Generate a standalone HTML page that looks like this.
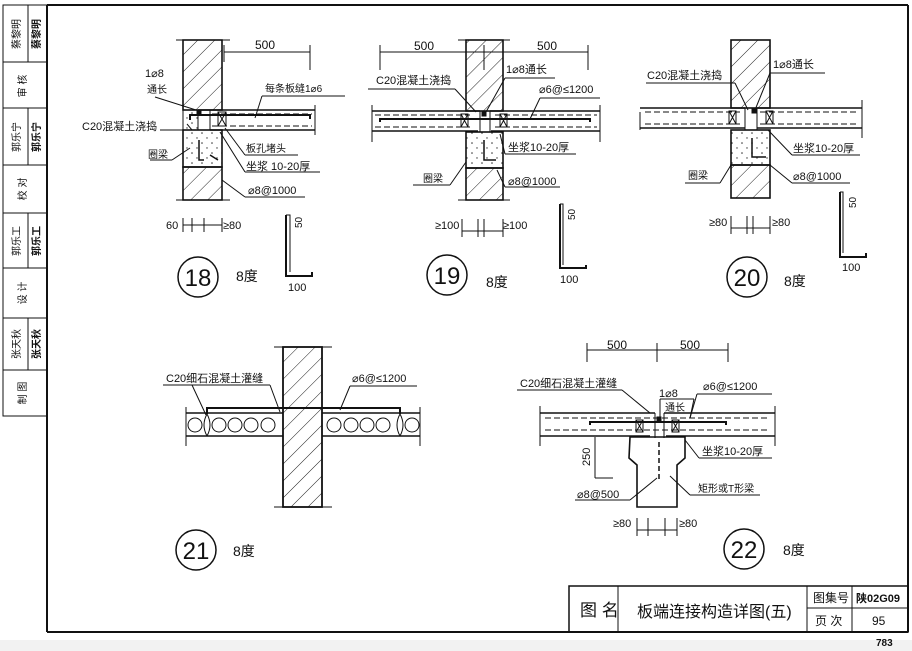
<!DOCTYPE html>
<html><head><meta charset="utf-8"><style>
html,body{margin:0;padding:0;background:#fff}
svg{display:block}
text{font-family:"Liberation Sans","Noto Sans CJK SC",sans-serif;fill:#111}
</style></head><body>
<svg width="912" height="651" viewBox="0 0 912 651" xmlns="http://www.w3.org/2000/svg">
<defs>
<pattern id="h" width="12" height="12" patternUnits="userSpaceOnUse" patternTransform="rotate(45)">
<line x1="0" y1="0" x2="0" y2="12" stroke="#222" stroke-width="1"/></pattern>
<pattern id="d" width="10" height="10" patternUnits="userSpaceOnUse">
<circle cx="2" cy="3" r="0.8" fill="#333"/><circle cx="7" cy="8" r="0.7" fill="#333"/></pattern>
</defs>
<rect x="0" y="640" width="912" height="11" fill="#f2f2f2"/>
<!-- frame -->
<g stroke="#111" fill="none">
<line x1="47" y1="5" x2="908" y2="5" stroke-width="2"/>
<line x1="47" y1="5" x2="47" y2="632" stroke-width="2"/>
<line x1="908" y1="5" x2="908" y2="632" stroke-width="2"/>
<line x1="47" y1="632" x2="908" y2="632" stroke-width="2"/>
<!-- sidebar -->
<rect x="3" y="5" width="44" height="411"/>
<line x1="3" y1="62" x2="47" y2="62"/><line x1="3" y1="108" x2="47" y2="108"/>
<line x1="3" y1="165" x2="47" y2="165"/><line x1="3" y1="213" x2="47" y2="213"/>
<line x1="3" y1="268" x2="47" y2="268"/><line x1="3" y1="318" x2="47" y2="318"/>
<line x1="3" y1="370" x2="47" y2="370"/>
<line x1="28" y1="5" x2="28" y2="62"/><line x1="28" y1="108" x2="28" y2="165"/>
<line x1="28" y1="213" x2="28" y2="268"/><line x1="28" y1="318" x2="28" y2="370"/>
<!-- title block -->
<rect x="569" y="586" width="339" height="46" stroke-width="1.5"/>
<line x1="618" y1="586" x2="618" y2="632"/><line x1="807" y1="586" x2="807" y2="632"/>
<line x1="852" y1="586" x2="852" y2="632"/><line x1="807" y1="608" x2="908" y2="608"/>
</g>
<g font-size="10">
<text transform="translate(20,34) rotate(-90)" text-anchor="middle">蔡黎明</text>
<text transform="translate(40,34) rotate(-90)" text-anchor="middle" font-weight="bold">蔡黎明</text>
<text transform="translate(26,86) rotate(-90)" text-anchor="middle">审 核</text>
<text transform="translate(20,137) rotate(-90)" text-anchor="middle">郭乐宁</text>
<text transform="translate(40,137) rotate(-90)" text-anchor="middle" font-weight="bold">郭乐宁</text>
<text transform="translate(26,189) rotate(-90)" text-anchor="middle">校 对</text>
<text transform="translate(20,241) rotate(-90)" text-anchor="middle">郭乐工</text>
<text transform="translate(40,241) rotate(-90)" text-anchor="middle" font-weight="bold">郭乐工</text>
<text transform="translate(26,293) rotate(-90)" text-anchor="middle">设 计</text>
<text transform="translate(20,344) rotate(-90)" text-anchor="middle">张天秋</text>
<text transform="translate(40,344) rotate(-90)" text-anchor="middle" font-weight="bold">张天秋</text>
<text transform="translate(26,393) rotate(-90)" text-anchor="middle">制 图</text>
</g>
<text x="580" y="616" font-size="17">图 名</text>
<text x="637" y="617" font-size="16">板端连接构造详图(五)</text>
<text x="813" y="602" font-size="12">图集号</text>
<text x="856" y="602" font-size="11" font-weight="bold">陕02G09</text>
<text x="815" y="625" font-size="12">页 次</text>
<text x="872" y="625" font-size="12">95</text>
<text x="876" y="646" font-size="10" font-weight="bold">783</text>

<g stroke="#111" fill="none" stroke-width="1">
<!-- ===== Fig 18 ===== -->
<rect x="183" y="40" width="39" height="70" fill="url(#h)" stroke-width="1.6"/>
<rect x="183" y="167" width="39" height="33" fill="url(#h)" stroke-width="1.6"/>
<rect x="183" y="130" width="39" height="37" fill="url(#d)" stroke-width="1.6"/>
<rect x="183" y="110" width="15" height="20" fill="url(#d)"/>
<line x1="176" y1="40" x2="230" y2="40"/><line x1="176" y1="200" x2="230" y2="200"/>
<line x1="198" y1="110" x2="315" y2="110" stroke-width="1.5"/>
<line x1="210" y1="130" x2="315" y2="130" stroke-width="1.5"/>
<line x1="210" y1="110" x2="210" y2="130"/>
<line x1="315" y1="105" x2="315" y2="135"/>
<line x1="212" y1="114" x2="312" y2="114" stroke-dasharray="6,3"/>
<line x1="212" y1="126" x2="312" y2="126" stroke-dasharray="6,3"/>
<path d="M190 120 L190 115 L310 115 L310 119" stroke-width="2"/>
<rect x="218" y="112" width="8" height="14"/><path d="M218 112 L226 126 M226 112 L218 126"/>
<rect x="197" y="110" width="4" height="4" fill="#111"/>
<path d="M199 140 L199 160 L204 160 M210 155 L218 160" stroke-width="1.5"/>
<line x1="224" y1="52" x2="310" y2="52"/><line x1="224" y1="45" x2="224" y2="62"/><line x1="310" y1="45" x2="310" y2="70"/>
<line x1="155" y1="97" x2="196" y2="110"/>
<line x1="160" y1="130" x2="192" y2="130"/><line x1="192" y1="130" x2="187" y2="124"/>
<line x1="150" y1="160" x2="172" y2="160"/><line x1="172" y1="160" x2="190" y2="148"/>
<line x1="262" y1="96" x2="345" y2="96"/><line x1="262" y1="96" x2="255" y2="118"/>
<line x1="245" y1="155" x2="298" y2="155"/><line x1="245" y1="155" x2="225" y2="128"/>
<line x1="245" y1="172" x2="320" y2="172"/><line x1="245" y1="172" x2="220" y2="132"/>
<line x1="245" y1="197" x2="305" y2="197"/><line x1="245" y1="197" x2="222" y2="180"/>
<line x1="183" y1="225" x2="222" y2="225"/>
<line x1="183" y1="218" x2="183" y2="232"/><line x1="192" y1="218" x2="192" y2="232"/>
<line x1="204" y1="218" x2="204" y2="232"/><line x1="222" y1="218" x2="222" y2="232"/>
<path d="M286 215 L286 276 L312 276 L312 272" stroke-width="2"/><path d="M286 215 L290 215 L290 272"/>
<circle cx="198" cy="277" r="20" stroke-width="1.5"/>

<!-- ===== Fig 19 ===== -->
<rect x="466" y="40" width="37" height="71" fill="url(#h)" stroke-width="1.6"/>
<rect x="466" y="168" width="37" height="32" fill="url(#h)" stroke-width="1.6"/>
<rect x="466" y="132" width="37" height="36" fill="url(#d)" stroke-width="1.6"/>
<line x1="458" y1="40" x2="510" y2="40"/><line x1="458" y1="200" x2="510" y2="200"/>
<line x1="372" y1="111" x2="480" y2="111" stroke-width="1.5"/><line x1="490" y1="111" x2="600" y2="111" stroke-width="1.5"/>
<line x1="372" y1="131" x2="478" y2="131" stroke-width="1.5"/><line x1="491" y1="131" x2="600" y2="131" stroke-width="1.5"/>
<line x1="372" y1="105" x2="372" y2="142"/><line x1="600" y1="105" x2="600" y2="142"/>
<line x1="375" y1="115" x2="470" y2="115" stroke-dasharray="6,3"/><line x1="375" y1="127" x2="470" y2="127" stroke-dasharray="6,3"/>
<line x1="495" y1="115" x2="597" y2="115" stroke-dasharray="6,3"/><line x1="495" y1="127" x2="597" y2="127" stroke-dasharray="6,3"/>
<path d="M380 122 L380 119 L590 119 L590 122" stroke-width="2"/>
<rect x="461" y="114" width="7" height="13"/><path d="M461 114 L468 127 M468 114 L461 127"/>
<rect x="500" y="114" width="7" height="13"/><path d="M500 114 L507 127 M507 114 L500 127"/>
<rect x="482" y="112" width="4" height="4" fill="#111"/>
<path d="M480 111 L480 132 M490 111 L490 132" />
<path d="M484 140 L484 160 L496 160" stroke-width="1.5"/>
<line x1="380" y1="52" x2="588" y2="52"/><line x1="380" y1="45" x2="380" y2="70"/><line x1="484" y1="45" x2="484" y2="70"/><line x1="588" y1="45" x2="588" y2="70"/>
<line x1="368" y1="89" x2="455" y2="89"/><line x1="455" y1="89" x2="476" y2="112"/>
<line x1="505" y1="78" x2="555" y2="78"/><line x1="505" y1="78" x2="486" y2="112"/>
<line x1="540" y1="98" x2="600" y2="98"/><line x1="540" y1="98" x2="530" y2="119"/>
<line x1="505" y1="154" x2="576" y2="154"/><line x1="505" y1="154" x2="500" y2="134"/>
<line x1="413" y1="185" x2="450" y2="185"/><line x1="450" y1="185" x2="466" y2="162"/>
<line x1="505" y1="187" x2="560" y2="187"/><line x1="505" y1="187" x2="497" y2="170"/>
<line x1="462" y1="231" x2="503" y2="231"/>
<line x1="462" y1="219" x2="462" y2="237"/><line x1="478" y1="219" x2="478" y2="237"/>
<line x1="484" y1="219" x2="484" y2="237"/><line x1="503" y1="219" x2="503" y2="237"/>
<path d="M560 204 L560 268 L586 268 L586 265" stroke-width="2"/><path d="M560 204 L563 204 L563 265"/>
<circle cx="447" cy="275" r="20" stroke-width="1.5"/>

<!-- ===== Fig 20 ===== -->
<rect x="731" y="40" width="39" height="68" fill="url(#h)" stroke-width="1.6"/>
<rect x="731" y="165" width="39" height="33" fill="url(#h)" stroke-width="1.6"/>
<rect x="731" y="130" width="39" height="35" fill="url(#d)" stroke-width="1.6"/>
<line x1="640" y1="108" x2="745" y2="108" stroke-width="1.5"/><line x1="757" y1="108" x2="862" y2="108" stroke-width="1.5"/>
<line x1="640" y1="128" x2="745" y2="128" stroke-width="1.5"/><line x1="757" y1="128" x2="862" y2="128" stroke-width="1.5"/>
<line x1="862" y1="100" x2="862" y2="138"/><line x1="640" y1="112" x2="640" y2="130"/>
<line x1="645" y1="112" x2="740" y2="112" stroke-dasharray="6,3"/><line x1="645" y1="124" x2="740" y2="124" stroke-dasharray="6,3"/>
<line x1="760" y1="112" x2="858" y2="112" stroke-dasharray="6,3"/><line x1="760" y1="124" x2="858" y2="124" stroke-dasharray="6,3"/>
<rect x="729" y="111" width="7" height="13"/><path d="M729 111 L736 124 M736 111 L729 124"/>
<rect x="766" y="111" width="7" height="13"/><path d="M766 111 L773 124 M773 111 L766 124"/>
<rect x="752" y="109" width="4" height="4" fill="#111"/>
<path d="M745 108 L745 130 M757 108 L757 130"/>
<path d="M752 138 L752 157 L766 157" stroke-width="1.5"/>
<line x1="646" y1="83" x2="735" y2="83"/><line x1="735" y1="83" x2="748" y2="110"/>
<line x1="770" y1="73" x2="825" y2="73"/><line x1="770" y1="73" x2="755" y2="110"/>
<line x1="792" y1="155" x2="860" y2="155"/><line x1="792" y1="155" x2="768" y2="130"/>
<line x1="685" y1="183" x2="720" y2="183"/><line x1="720" y1="183" x2="731" y2="165"/>
<line x1="792" y1="183" x2="850" y2="183"/><line x1="792" y1="183" x2="770" y2="165"/>
<line x1="731" y1="228" x2="770" y2="228"/>
<line x1="731" y1="216" x2="731" y2="234"/><line x1="747" y1="216" x2="747" y2="234"/>
<line x1="753" y1="216" x2="753" y2="234"/><line x1="770" y1="216" x2="770" y2="234"/>
<path d="M840 192 L840 257 L866 257 L866 253" stroke-width="2"/><path d="M840 192 L843 192 L843 253"/>
<circle cx="747" cy="277" r="20" stroke-width="1.5"/>

<!-- ===== Fig 21 ===== -->
<rect x="283" y="347" width="39" height="160" fill="url(#h)" stroke-width="1.8"/>
<line x1="274" y1="347" x2="332" y2="347"/><line x1="274" y1="507" x2="332" y2="507"/>
<line x1="186" y1="413" x2="283" y2="413" stroke-width="1.5"/><line x1="322" y1="413" x2="420" y2="413" stroke-width="1.5"/>
<line x1="186" y1="436" x2="283" y2="436" stroke-width="1.5"/><line x1="322" y1="436" x2="420" y2="436" stroke-width="1.5"/>
<line x1="186" y1="407" x2="186" y2="446"/><line x1="420" y1="407" x2="420" y2="446"/>
<path d="M207 414 L207 408 L400 408 L400 414" stroke-width="2"/>
<circle cx="195" cy="425" r="7"/><circle cx="219" cy="425" r="7"/><circle cx="235" cy="425" r="7"/><circle cx="251" cy="425" r="7"/><circle cx="268" cy="425" r="7"/>
<circle cx="334" cy="425" r="7"/><circle cx="351" cy="425" r="7"/><circle cx="367" cy="425" r="7"/><circle cx="383" cy="425" r="7"/><circle cx="412" cy="425" r="7"/>
<path d="M207 414 Q201 425 207 436 M207 414 Q213 425 207 436 M400 414 Q394 425 400 436 M400 414 Q406 425 400 436"/>
<line x1="163" y1="385" x2="270" y2="385"/><line x1="192" y1="385" x2="206" y2="415"/><line x1="270" y1="385" x2="280" y2="412"/>
<line x1="350" y1="386" x2="417" y2="386"/><line x1="350" y1="386" x2="340" y2="410"/>
<circle cx="196" cy="550" r="20" stroke-width="1.5"/>

<!-- ===== Fig 22 ===== -->
<line x1="540" y1="413" x2="655" y2="413" stroke-width="1.5"/><line x1="664" y1="413" x2="775" y2="413" stroke-width="1.5"/>
<line x1="540" y1="436" x2="650" y2="436" stroke-width="1.5"/><line x1="666" y1="436" x2="775" y2="436" stroke-width="1.5"/>
<line x1="540" y1="406" x2="540" y2="446"/><line x1="775" y1="406" x2="775" y2="446"/>
<line x1="545" y1="418" x2="770" y2="418" stroke-dasharray="6,3"/><line x1="545" y1="430" x2="770" y2="430" stroke-dasharray="6,3"/>
<path d="M590 425 L590 422 L726 422 L726 425" stroke-width="2"/>
<rect x="636" y="420" width="7" height="12"/><path d="M636 420 L643 432 M643 420 L636 432"/>
<rect x="672" y="420" width="7" height="12"/><path d="M672 420 L679 432 M679 420 L672 432"/>
<rect x="657" y="417" width="4" height="4" fill="#111"/>
<path d="M655 413 L655 438 M664 413 L664 438"/>
<path d="M630 437 L685 437 L685 458 L677 465 L677 507 L637 507 L637 465 L629 458 Z" stroke-width="1.6"/>
<line x1="659" y1="442" x2="659" y2="482" stroke-dasharray="5,3" stroke-width="1.5"/>
<line x1="587" y1="350" x2="728" y2="350"/><line x1="587" y1="343" x2="587" y2="362"/><line x1="657" y1="343" x2="657" y2="362"/><line x1="728" y1="343" x2="728" y2="362"/>
<line x1="517" y1="390" x2="622" y2="390"/><line x1="622" y1="390" x2="650" y2="413"/>
<line x1="660" y1="399" x2="694" y2="399"/><line x1="660" y1="399" x2="660" y2="418"/><line x1="694" y1="399" x2="690" y2="418"/>
<line x1="697" y1="394" x2="772" y2="394"/><line x1="697" y1="394" x2="690" y2="418"/>
<line x1="699" y1="458" x2="772" y2="458"/><line x1="699" y1="458" x2="685" y2="440"/>
<line x1="690" y1="495" x2="760" y2="495"/><line x1="690" y1="495" x2="670" y2="476"/>
<line x1="575" y1="500" x2="630" y2="500"/><line x1="630" y1="500" x2="657" y2="478"/>
<line x1="595" y1="437" x2="595" y2="478"/><line x1="595" y1="478" x2="613" y2="478"/>
<line x1="637" y1="530" x2="677" y2="530"/>
<line x1="637" y1="518" x2="637" y2="536"/><line x1="648" y1="518" x2="648" y2="536"/>
<line x1="665" y1="518" x2="665" y2="536"/><line x1="677" y1="518" x2="677" y2="536"/>
<circle cx="744" cy="549" r="20" stroke-width="1.5"/>
</g>

<g font-size="11">
<!-- fig18 -->
<text x="255" y="49" font-size="12">500</text>
<text x="145" y="77">1⌀8</text><text x="147" y="93" font-size="10">通长</text>
<text x="265" y="92" font-size="10">每条板缝1⌀6</text>
<text x="82" y="130">C20混凝土浇捣</text>
<text x="246" y="152" font-size="10">板孔堵头</text>
<text x="148" y="158" font-size="10">圈梁</text>
<text x="246" y="170">坐浆 10-20厚</text>
<text x="248" y="194">⌀8@1000</text>
<text x="166" y="229">60</text><text x="223" y="229">≥80</text>
<text x="296" y="222" font-size="10" transform="rotate(-90 302 222)">50</text>
<text x="288" y="291">100</text>
<text x="198" y="286" font-size="24" text-anchor="middle">18</text>
<text x="236" y="281" font-size="14">8度</text>
<!-- fig19 -->
<text x="414" y="50" font-size="12">500</text><text x="537" y="50" font-size="12">500</text>
<text x="376" y="84">C20混凝土浇捣</text>
<text x="506" y="73">1⌀8通长</text>
<text x="539" y="93">⌀6@≤1200</text>
<text x="508" y="151">坐浆10-20厚</text>
<text x="423" y="182" font-size="10">圈梁</text>
<text x="508" y="185">⌀8@1000</text>
<text x="435" y="229">≥100</text><text x="503" y="229">≥100</text>
<text x="569" y="214" font-size="10" transform="rotate(-90 575 214)">50</text>
<text x="560" y="283">100</text>
<text x="447" y="284" font-size="24" text-anchor="middle">19</text>
<text x="486" y="287" font-size="14">8度</text>
<!-- fig20 -->
<text x="647" y="79">C20混凝土浇捣</text>
<text x="773" y="68">1⌀8通长</text>
<text x="793" y="152">坐浆10-20厚</text>
<text x="688" y="179" font-size="10">圈梁</text>
<text x="793" y="180">⌀8@1000</text>
<text x="709" y="226">≥80</text><text x="772" y="226">≥80</text>
<text x="850" y="202" font-size="10" transform="rotate(-90 856 202)">50</text>
<text x="842" y="271">100</text>
<text x="747" y="286" font-size="24" text-anchor="middle">20</text>
<text x="784" y="286" font-size="14">8度</text>
<!-- fig21 -->
<text x="166" y="382">C20细石混凝土灌缝</text>
<text x="352" y="382">⌀6@≤1200</text>
<text x="196" y="559" font-size="24" text-anchor="middle">21</text>
<text x="233" y="556" font-size="14">8度</text>
<!-- fig22 -->
<text x="607" y="349" font-size="12">500</text><text x="680" y="349" font-size="12">500</text>
<text x="520" y="387">C20细石混凝土灌缝</text>
<text x="659" y="397">1⌀8</text><text x="665" y="411" font-size="10">通长</text>
<text x="703" y="390">⌀6@≤1200</text>
<text x="702" y="455">坐浆10-20厚</text>
<text x="698" y="492" font-size="10">矩形或T形梁</text>
<text x="577" y="498">⌀8@500</text>
<text x="590" y="466" font-size="11" transform="rotate(-90 590 466)">250</text>
<text x="613" y="527">≥80</text><text x="679" y="527">≥80</text>
<text x="744" y="558" font-size="24" text-anchor="middle">22</text>
<text x="783" y="555" font-size="14">8度</text>
</g>
</svg>
</body></html>
